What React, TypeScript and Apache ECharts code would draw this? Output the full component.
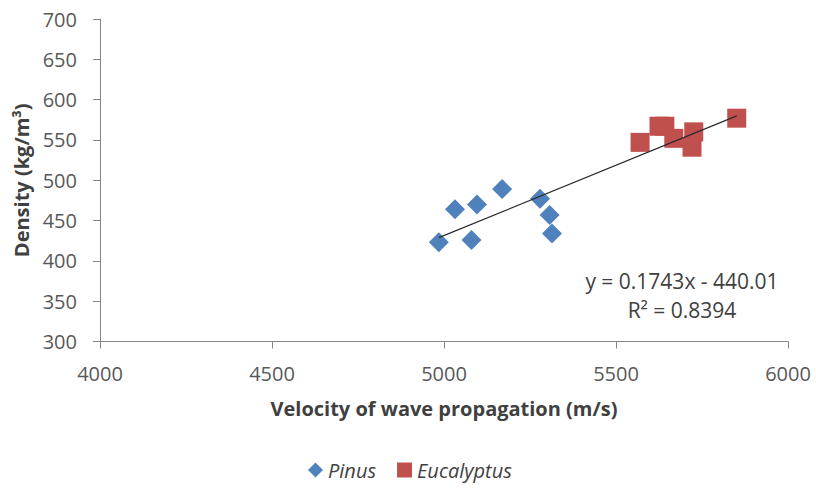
import React, { useEffect, useRef } from "react";
import * as echarts from "echarts";

const pinusX = [4985, 5032, 5080, 5096, 5169, 5279, 5307, 5314];
const pinusY = [423, 464, 426, 470, 489, 477, 457, 434];
const eucX = [5570, 5625, 5642, 5668, 5726, 5721, 5851];
const eucY = [547, 567, 567, 552, 560, 541, 577];
const slope = 0.1743;
const intercept = -440.01;
const eqText = "y = 0.1743x - 440.01";
const r2Text = "R² = 0.8394";

const FONT = "'Open Sans', 'Noto Sans', sans-serif";

export default function App() {
  const ref = useRef<HTMLDivElement>(null);
  useEffect(() => {
    if (!ref.current) return;
    const chart = echarts.init(ref.current, undefined, { renderer: "svg" });
    const allX = [...pinusX, ...eucX];
    const xmin = Math.min(...allX);
    const xmax = Math.max(...allX);
    const trend = [
      [xmin, slope * xmin + intercept],
      [xmax, slope * xmax + intercept],
    ];
    const axisLine = { lineStyle: { color: "#868686", width: 1 } };
    chart.setOption({
      animation: false,
      textStyle: { fontFamily: FONT },
      grid: { left: 100, right: 28, top: 19, bottom: 148.5, containLabel: false },
      xAxis: {
        type: "value",
        min: 4000,
        max: 6000,
        interval: 500,
        axisLine: { ...axisLine, onZero: false },
        axisTick: { show: true, length: 7, lineStyle: { color: "#868686" } },
        splitLine: { show: false },
        axisLabel: {
          fontSize: 20,
          color: "#595959",
          margin: 22,
          fontFamily: FONT,
          formatter: (v: number) => String(v),
        },
        name: "Velocity of wave propagation (m/s)",
        nameLocation: "middle",
        nameGap: 57,
        nameTextStyle: { fontSize: 20, fontWeight: "bold", color: "#404040", fontFamily: FONT },
      },
      yAxis: {
        type: "value",
        min: 300,
        max: 700,
        interval: 50,
        axisLine: { show: true, ...axisLine },
        axisTick: { show: true, length: 7, lineStyle: { color: "#868686" } },
        splitLine: { show: false },
        axisLabel: {
          fontSize: 20,
          color: "#595959",
          margin: 23,
          fontFamily: FONT,
          formatter: (v: number) => String(v),
        },
        name: "Density (kg/m³)",
        nameLocation: "middle",
        nameGap: 68,
        nameTextStyle: { fontSize: 20, fontWeight: "bold", color: "#404040", fontFamily: FONT },
      },
      legend: {
        data: [
          { name: "Pinus", icon: "diamond" },
          { name: "Eucalyptus", icon: "rect" },
        ],
        bottom: 5,
        left: 303,
        itemWidth: 15,
        itemHeight: 15,
        itemGap: 21,
        textStyle: { fontSize: 20, fontStyle: "italic", color: "#404040", fontFamily: FONT },
      },
      series: [
        {
          name: "trend",
          type: "line",
          data: trend,
          showSymbol: false,
          symbol: "none",
          lineStyle: { color: "#2b2b2b", width: 1.2 },
          z: 3,
          silent: true,
        },
        {
          name: "Pinus",
          type: "scatter",
          symbol: "diamond",
          symbolSize: 20,
          itemStyle: { color: "#4F81BD", opacity: 1 },
          data: pinusX.map((x, i) => [x, pinusY[i]]),
          z: 2,
        },
        {
          name: "Eucalyptus",
          type: "scatter",
          symbol: "rect",
          symbolSize: 19,
          itemStyle: { color: "#C0504D", opacity: 1 },
          data: eucX.map((x, i) => [x, eucY[i]]),
          z: 2,
        },
      ],
      graphic: [
        {
          type: "text",
          x: 682,
          y: 281,
          style: {
            text: eqText,
            fontSize: 21,
            fill: "#404040",
            fontFamily: FONT,
            textAlign: "center",
            textVerticalAlign: "middle",
          },
        },
        {
          type: "text",
          x: 682,
          y: 310,
          style: {
            text: r2Text,
            fontSize: 21,
            fill: "#404040",
            fontFamily: FONT,
            textAlign: "center",
            textVerticalAlign: "middle",
          },
        },
      ],
    });
    return () => chart.dispose();
  }, []);
  return <div ref={ref} style={{ width: 816, height: 490, position: "absolute", left: 0, top: 0 }} />;
}
